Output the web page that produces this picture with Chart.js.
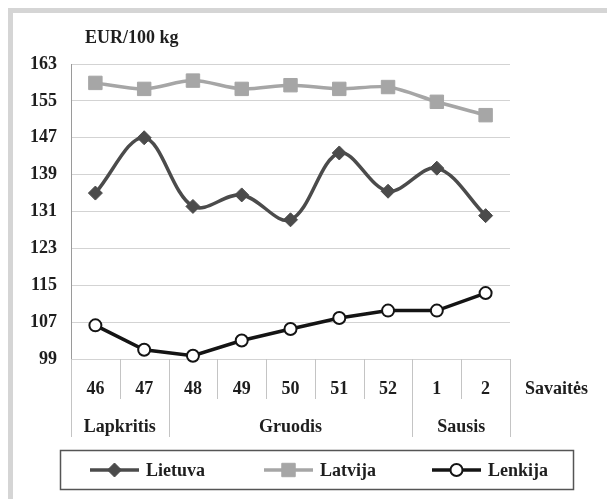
<!DOCTYPE html>
<html>
<head>
<meta charset="utf-8">
<script src="https://cdn.jsdelivr.net/npm/chart.js@4/dist/chart.umd.min.js"></script>
<style>
  html, body { margin: 0; padding: 0; background: #fff; }
  #box { position: relative; width: 607px; height: 499px; }
</style>
</head>
<body>
<div id="box"><canvas id="c"></canvas></div>
<script>
const weeks = ["46", "47", "48", "49", "50", "51", "52", "1", "2"];
const months = ["Lapkritis", "Gruodis", "Sausis"];
const monthWeeks = [2, 5, 2];
const yTicks = [99, 107, 115, 123, 131, 139, 147, 155, 163];

const lietuva = [135.0, 147.0, 132.1, 134.6, 129.2, 143.7, 135.4, 140.4, 130.1];
const latvija = [158.9, 157.6, 159.4, 157.6, 158.4, 157.6, 158.0, 154.8, 151.9];
const lenkija = [106.3, 101.0, 99.7, 103.0, 105.5, 107.9, 109.5, 109.5, 113.3];

const FONT = "'Liberation Serif', 'Times New Roman', serif";
const TEXT = "#1e1e1e";
const SIZE = 18;

// frame, axis title, week/month labels and the boxed legend
const decor = {
  id: "decor",
  beforeDraw(chart) {
    const ctx = chart.ctx;
    ctx.save();
    ctx.fillStyle = "#d5d5d5";
    ctx.fillRect(8, 8, 607, 5);
    ctx.fillRect(8, 8, 5, 499);
    ctx.restore();
  },
  afterDraw(chart) {
    const ctx = chart.ctx;
    const xs = chart.scales.x;
    const area = chart.chartArea;
    const step = xs.getPixelForValue(1) - xs.getPixelForValue(0);

    ctx.save();
    ctx.fillStyle = TEXT;
    ctx.font = "bold " + SIZE + "px " + FONT;
    ctx.textBaseline = "middle";
    ctx.textAlign = "left";
    ctx.fillText("EUR/100 kg", 85, 38);

    // separators under the axis
    const monthEdges = [0];
    monthWeeks.forEach(n => monthEdges.push(monthEdges[monthEdges.length - 1] + n));
    ctx.strokeStyle = "#c4c4c4";
    ctx.lineWidth = 1;
    for (let i = 0; i <= weeks.length; i++) {
      const x = Math.round(xs.getPixelForValue(0) - step / 2 + i * step) + 0.5;
      const long = monthEdges.includes(i);
      ctx.beginPath();
      ctx.moveTo(x, area.bottom);
      ctx.lineTo(x, long ? 437 : 399);
      ctx.stroke();
    }

    ctx.textAlign = "center";
    weeks.forEach((w, i) => ctx.fillText(w, xs.getPixelForValue(i), 389));
    ctx.textAlign = "left";
    ctx.fillText("Savaitės", 525, 389);

    ctx.textAlign = "center";
    months.forEach((m, k) => {
      const a = monthEdges[k], b = monthEdges[k + 1] - 1;
      ctx.fillText(m, (xs.getPixelForValue(a) + xs.getPixelForValue(b)) / 2, 427);
    });

    // legend
    ctx.strokeStyle = "#555";
    ctx.lineWidth = 1.5;
    ctx.strokeRect(60.5, 450.5, 513, 39);
    const legendX = [90, 264, 432];
    const ly = 470;
    chart.data.datasets.forEach((ds, i) => {
      const x0 = legendX[i];
      ctx.strokeStyle = ds.borderColor;
      ctx.lineWidth = ds.borderWidth;
      ctx.beginPath();
      ctx.moveTo(x0, ly);
      ctx.lineTo(x0 + 49, ly);
      ctx.stroke();
      ctx.fillStyle = ds.pointBackgroundColor;
      ctx.strokeStyle = ds.pointBorderColor;
      ctx.lineWidth = ds.pointBorderWidth;
      Chart.helpers.drawPoint(ctx, {
        pointStyle: ds.pointStyle, radius: ds.pointRadius,
        borderWidth: ds.pointBorderWidth, rotation: 0
      }, x0 + 24.5, ly);
      ctx.fillStyle = TEXT;
      ctx.textAlign = "left";
      ctx.fillText(ds.label, x0 + 56, ly + 1);
    });
    ctx.restore();
  }
};

new Chart(document.getElementById("c"), {
  type: "line",
  data: {
    labels: weeks,
    datasets: [
      {
        label: "Lietuva",
        data: lietuva,
        borderColor: "#4b4b4b",
        borderWidth: 3.5,
        tension: 0.35,
        pointStyle: "rectRot",
        pointRadius: 7,
        pointBackgroundColor: "#4b4b4b",
        pointBorderColor: "#4b4b4b",
        pointBorderWidth: 1,
        clip: false
      },
      {
        label: "Latvija",
        data: latvija,
        borderColor: "#a6a6a6",
        borderWidth: 3.5,
        tension: 0.3,
        pointStyle: "rect",
        pointRadius: 9.5,
        pointBackgroundColor: "#a6a6a6",
        pointBorderColor: "#a6a6a6",
        pointBorderWidth: 1,
        clip: false
      },
      {
        label: "Lenkija",
        data: lenkija,
        borderColor: "#141414",
        borderWidth: 3.5,
        tension: 0,
        pointStyle: "circle",
        pointRadius: 6,
        pointBackgroundColor: "#ffffff",
        pointBorderColor: "#141414",
        pointBorderWidth: 2,
        clip: false
      }
    ]
  },
  options: {
    animation: false,
    responsive: true,
    maintainAspectRatio: false,
    layout: { padding: { top: 64, right: 97, left: 0, bottom: 0 } },
    scales: {
      x: {
        offset: true,
        grid: { display: false },
        border: { display: false },
        ticks: { display: false },
        afterFit(s) { s.height = 140; }
      },
      y: {
        min: 99,
        max: 163,
        afterBuildTicks(s) { s.ticks = yTicks.map(v => ({ value: v })); },
        ticks: {
          color: TEXT,
          padding: 14,
          font: { family: FONT, weight: "bold", size: SIZE }
        },
        grid: { color: "#d3d3d3", lineWidth: 1, drawTicks: false },
        border: { color: "#9a9a9a", width: 1 },
        afterFit(s) { s.width = 71; }
      }
    },
    plugins: {
      legend: { display: false },
      tooltip: { enabled: false }
    }
  },
  plugins: [decor]
});
</script>
</body>
</html>
